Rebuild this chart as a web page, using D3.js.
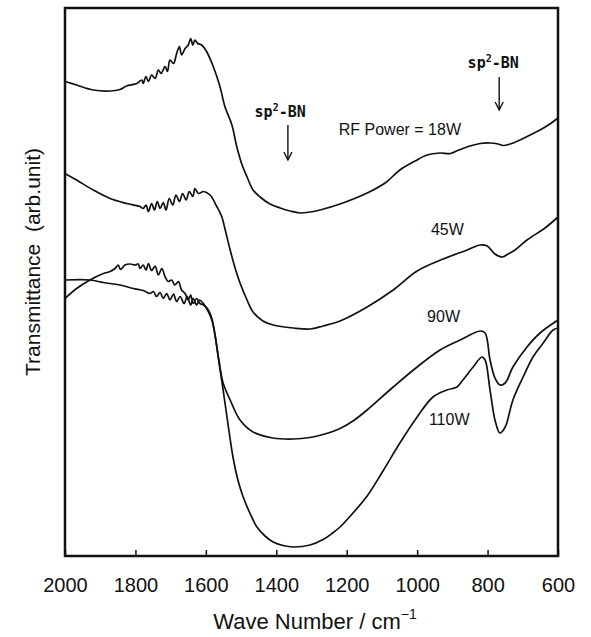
<!DOCTYPE html>
<html>
<head>
<meta charset="utf-8">
<script src="https://cdn.jsdelivr.net/npm/d3@7"></script>
<style>
body{margin:0;background:#fff}
svg{display:block}
.tick text{font-family:"Liberation Sans",Arial,sans-serif;font-size:20px;fill:#111}
.lbl{font-family:"Liberation Sans",Arial,sans-serif;fill:#111}
.band{font-family:"DejaVu Sans Mono",monospace;font-weight:bold;font-size:15px;fill:#111}
</style>
</head>
<body>
<svg id="ftir"></svg>
<script>
// x axis ticks (wave number, cm-1)
var xTicks=[2000,1800,1600,1400,1200,1000,800,600]

// spectra: [wave number, transmittance (arb. unit)]
var p18W=[[2000,94.9],[1967,94.2],[1920,93.2],[1872,93.0],[1844,93.3],[1825,94.0],[1796,94.5],[1782,95.2],[1778,94.5],[1770,95.9],[1763,94.9],[1754,96.2],[1744,95.5],[1735,97.2],[1727,96.5],[1716,97.9],[1709,96.9],[1702,99.2],[1692,98.5],[1683,100.5],[1675,101.9],[1669,100.2],[1659,101.5],[1650,102.2],[1643,103.5],[1637,102.2],[1631,103.2],[1623,102.5],[1612,102.2],[1598,100.9],[1579,97.9],[1560,93.9],[1546,89.9],[1526,86.2],[1512,81.8],[1497,78.2],[1483,75.8],[1466,73.2],[1446,71.8],[1418,70.4],[1389,69.6],[1361,69.0],[1333,68.6],[1304,68.8],[1276,69.2],[1219,70.4],[1142,72.6],[1091,74.6],[1049,77.2],[1006,79.0],[972,80.2],[935,80.6],[905,80.5],[885,81.1],[850,82.0],[821,82.5],[793,82.6],[770,82.4],[756,82.1],[736,82.4],[708,83.2],[679,84.2],[651,85.2],[623,86.4],[600,87.6]]

var p45W=[[2000,76.5],[1967,75.2],[1920,73.2],[1872,71.5],[1825,70.5],[1787,69.9],[1778,69.5],[1770,70.2],[1763,68.9],[1754,70.5],[1746,69.2],[1738,70.9],[1730,69.5],[1721,70.7],[1713,69.2],[1704,71.5],[1694,70.2],[1685,72.2],[1675,70.9],[1666,72.5],[1656,71.2],[1647,72.9],[1637,71.9],[1631,73.5],[1621,72.5],[1607,72.9],[1588,72.2],[1569,69.9],[1555,67.9],[1546,65.5],[1531,61.2],[1517,57.6],[1503,54.6],[1483,51.2],[1466,48.8],[1438,47.0],[1409,46.2],[1352,45.6],[1304,45.4],[1267,46.0],[1219,47.0],[1142,49.8],[1068,53.2],[1000,57.0],[926,59.4],[858,61.2],[821,62.2],[801,62.0],[779,60.4],[759,59.8],[742,60.4],[722,61.2],[688,63.2],[637,65.6],[600,67.8]]

var p90W=[[2000,55.2],[1929,55.2],[1891,54.7],[1844,54.2],[1806,53.5],[1778,53.1],[1759,52.5],[1749,52.9],[1740,51.9],[1730,52.7],[1721,51.5],[1711,52.5],[1702,51.2],[1692,52.4],[1683,50.9],[1673,51.9],[1662,50.5],[1653,51.9],[1643,50.2],[1636,51.5],[1626,50.2],[1619,51.2],[1607,50.5],[1593,48.9],[1583,47.2],[1574,44.2],[1563,39.2],[1551,34.6],[1531,31.2],[1503,27.2],[1466,24.8],[1409,23.6],[1352,23.4],[1304,23.7],[1267,24.3],[1219,25.5],[1180,27.1],[1142,29.2],[1068,33.8],[1000,37.8],[935,41.2],[878,43.2],[821,45.0],[807,44.6],[793,39.2],[779,35.6],[765,34.2],[750,34.6],[728,37.8],[688,41.8],[651,44.6],[600,47.2]]

var p110W=[[2000,51.5],[1967,53.5],[1929,55.2],[1891,56.5],[1872,56.9],[1858,57.5],[1849,58.2],[1842,57.3],[1830,58.2],[1815,58.4],[1801,58.2],[1792,58.4],[1787,57.5],[1778,58.2],[1770,57.2],[1763,58.5],[1754,57.1],[1744,58.0],[1735,56.2],[1725,57.5],[1716,55.9],[1707,54.9],[1697,55.2],[1688,54.2],[1678,54.9],[1669,53.2],[1659,52.5],[1650,51.2],[1643,52.2],[1636,50.5],[1626,51.5],[1617,50.5],[1607,50.2],[1593,49.2],[1583,47.5],[1574,44.2],[1565,39.8],[1551,33.2],[1540,27.8],[1523,19.8],[1509,15.2],[1494,11.8],[1475,8.6],[1455,5.8],[1432,4.0],[1409,2.8],[1381,2.1],[1352,1.8],[1304,2.2],[1267,3.3],[1240,4.6],[1219,5.8],[1191,7.9],[1142,12.0],[1097,17.0],[1049,22.6],[1000,27.8],[955,31.8],[915,33.2],[887,33.8],[870,35.2],[841,37.8],[816,39.8],[807,39.2],[793,33.2],[779,27.2],[765,24.6],[750,25.8],[728,31.2],[699,35.8],[671,39.8],[642,42.6],[614,45.2],[600,45.6]]

var spectra=[p18W,p45W,p90W,p110W]

// curve labels: text, wave number, transmittance
var curveLabels=[["RF Power = 18W",1049,84.2],["45W",914,64.2],["90W",925,46.8],["110W",909,26.2]]
// band markers: label wave number, arrow wave number, label level, arrow top, arrow bottom
var bands=[[1389,1367,87.8,86.2,79.2],[784,767,97.6,95.8,89.2]]

var screen={width:591,height:637}
var margins={left:65,right:33,top:8,bottom:81}
var graph={
    width:screen.width-margins.left-margins.right,
    height:screen.height-margins.top-margins.bottom}

var svg=d3.select("#ftir")
    .attr("width",screen.width)
    .attr("height",screen.height)

var xScale=d3.scaleLinear()
    .domain([2000,600])
    .range([margins.left,margins.left+graph.width])
var yScale=d3.scaleLinear()
    .domain([0,109.6])
    .range([margins.top+graph.height,margins.top])

//draw spectra
var lineGenerator=d3.line()
    .x(function(d){return xScale(d[0])})
    .y(function(d){return yScale(d[1])})
    .curve(d3.curveCatmullRom.alpha(0.5))

svg.append("g")
    .selectAll("path")
    .data(spectra)
    .enter()
    .append("path")
    .attr("d",lineGenerator)
    .attr("fill","none")
    .attr("stroke","#111")
    .attr("stroke-width",1.7)
    .attr("stroke-linejoin","round")

//axis
var xAxis=d3.axisBottom(xScale)
    .tickValues(xTicks)
    .tickFormat(d3.format("d"))
    .tickSize(-6)
    .tickPadding(22)
var ax=svg.append("g")
    .attr("transform","translate(0,"+(margins.top+graph.height)+")")
    .call(xAxis)
ax.select(".domain").remove()
ax.selectAll(".tick line").attr("stroke","#111").attr("stroke-width",1.5)

//frame
svg.append("rect")
    .attr("x",margins.left)
    .attr("y",margins.top)
    .attr("width",graph.width)
    .attr("height",graph.height)
    .attr("fill","none")
    .attr("stroke","#111")
    .attr("stroke-width",2.5)

//curve labels
svg.append("g")
    .selectAll("text")
    .data(curveLabels)
    .enter()
    .append("text")
    .classed("lbl",true)
    .attr("text-anchor","middle")
    .attr("font-size",16)
    .attr("x",function(d){return xScale(d[1])})
    .attr("y",function(d){return yScale(d[2])})
    .text(function(d){return d[0]})

//sp2-BN markers
var b=svg.append("g")
    .selectAll("g")
    .data(bands)
    .enter()
    .append("g")
var bt=b.append("text")
    .classed("band",true)
    .attr("text-anchor","middle")
    .attr("x",function(d){return xScale(d[0])})
    .attr("y",function(d){return yScale(d[2])})
bt.append("tspan").text("sp")
bt.append("tspan").attr("font-size",10).attr("dy",-6).text("2")
bt.append("tspan").attr("dy",6).text("-BN")
b.append("line")
    .attr("x1",function(d){return xScale(d[1])})
    .attr("x2",function(d){return xScale(d[1])})
    .attr("y1",function(d){return yScale(d[3])})
    .attr("y2",function(d){return yScale(d[4])})
    .attr("stroke","#111")
    .attr("stroke-width",1.4)
b.append("path")
    .attr("d",function(d){
        var x=xScale(d[1]),y=yScale(d[4])
        return "M"+(x-4)+","+(y-8)+"L"+x+","+y+"L"+(x+4)+","+(y-8)})
    .attr("fill","none")
    .attr("stroke","#111")
    .attr("stroke-width",1.4)

//axis titles
var xt=svg.append("text")
    .classed("lbl",true)
    .attr("text-anchor","middle")
    .attr("font-size",22)
    .attr("x",315)
    .attr("y",629)
xt.append("tspan").text("Wave Number / cm")
xt.append("tspan").attr("font-size",14).attr("dy",-10).text("\u22121")

svg.append("g")
    .attr("transform","translate(40,262)")
    .append("text")
    .classed("lbl",true)
    .attr("text-anchor","middle")
    .attr("font-size",21)
    .attr("transform","rotate(-90)")
    .style("white-space","pre")
    .text("Transmittance  (arb.unit)")
</script>
</body>
</html>
